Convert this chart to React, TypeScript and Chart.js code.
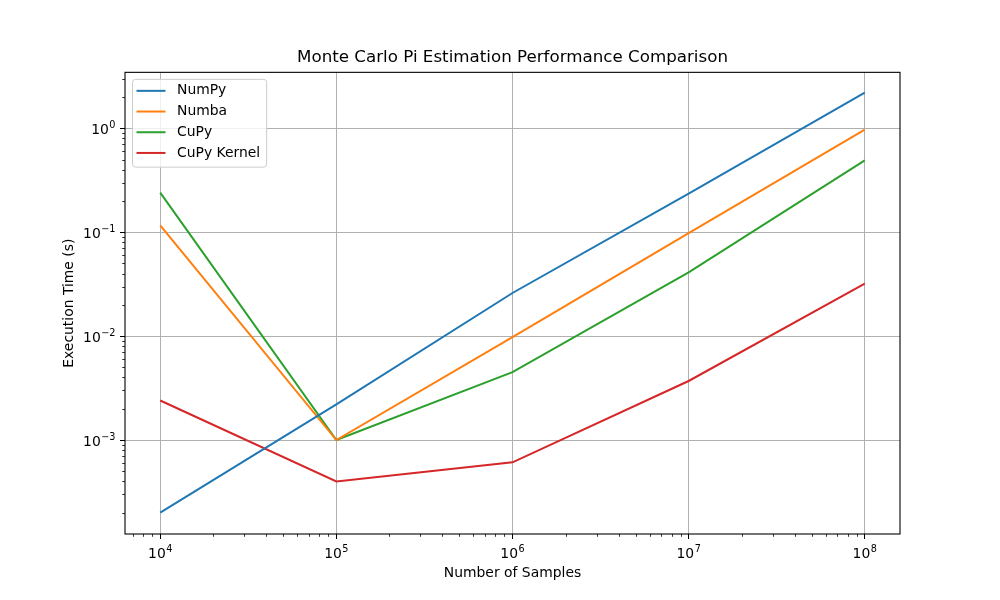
import { useEffect, useRef } from "react";
import { Chart, registerables } from "chart.js";

Chart.register(...registerables);

// Benchmark data (seconds)
const sampleCounts = [1e4, 1e5, 1e6, 1e7, 1e8];
const numpyTimes = [2.0e-4, 2.2e-3, 0.026, 0.235, 2.2];
const numbaTimes = [0.116, 1.0e-3, 0.0098, 0.098, 0.97];
const cupyTimes = [0.24, 1.0e-3, 0.0045, 0.041, 0.49];
const cupyKernelTimes = [2.4e-3, 4.0e-4, 6.1e-4, 3.7e-3, 0.032];

const seriesNames = ["NumPy", "Numba", "CuPy", "CuPy Kernel"];
const seriesColors = ["#1f77b4", "#ff7f0e", "#2ca02c", "#d62728"];

const X_MIN = Math.pow(10, 3.8);
const X_MAX = Math.pow(10, 8.2);
const Y_MIN = Math.pow(10, -3.904);
const Y_MAX = Math.pow(10, 0.538);

const FONT = "'DejaVu Sans', sans-serif";
const MAIN_PX = 13.9;
const SUP_PX = 9.7;

const isDecade = (v: number) => {
  const l = Math.log10(v);
  return Math.abs(l - Math.round(l)) < 1e-9;
};

const exponentText = (v: number) => {
  const e = Math.round(Math.log10(v));
  return (e < 0 ? "\u2212" : "") + String(Math.abs(e));
};

function logTicks(scale: any) {
  const ticks: { value: number }[] = [];
  const lo = Math.floor(Math.log10(scale.min));
  const hi = Math.ceil(Math.log10(scale.max));
  for (let d = lo; d <= hi; d++) {
    for (let m = 1; m < 10; m++) {
      const v = m * Math.pow(10, d);
      if (v >= scale.min && v <= scale.max) ticks.push({ value: v });
    }
  }
  scale.ticks = ticks;
}

// draws "10" with a raised exponent, like matplotlib's mathtext
function powerLabel(ctx: CanvasRenderingContext2D, v: number, x: number, y: number, align: "center" | "right") {
  const exp = exponentText(v);
  ctx.font = `${MAIN_PX}px ${FONT}`;
  const w1 = ctx.measureText("10").width;
  ctx.font = `${SUP_PX}px ${FONT}`;
  const w2 = ctx.measureText(exp).width;
  const total = w1 + w2 + 0.5;
  const x0 = align === "center" ? x - total / 2 : x - total;
  ctx.font = `${MAIN_PX}px ${FONT}`;
  ctx.fillText("10", x0, y);
  ctx.font = `${SUP_PX}px ${FONT}`;
  ctx.fillText(exp, x0 + w1 + 0.5, y - 6);
}

// minor tick marks, tick labels, spines and legend box drawn matplotlib-style
const decorations = {
  id: "decorations",
  afterDatasetsDraw(chart: any) {
    const { ctx, chartArea: a } = chart;
    const xs = chart.scales.x;
    const ys = chart.scales.y;
    ctx.save();
    ctx.strokeStyle = "#000";
    ctx.lineWidth = 0.8;
    xs.ticks.forEach((t: any) => {
      if (isDecade(t.value)) return;
      const px = Math.round(xs.getPixelForValue(t.value)) + 0.5;
      ctx.beginPath();
      ctx.moveTo(px, a.bottom);
      ctx.lineTo(px, a.bottom + 2.8);
      ctx.stroke();
    });
    ys.ticks.forEach((t: any) => {
      if (isDecade(t.value)) return;
      const py = Math.round(ys.getPixelForValue(t.value)) + 0.5;
      ctx.beginPath();
      ctx.moveTo(a.left, py);
      ctx.lineTo(a.left - 2.8, py);
      ctx.stroke();
    });

    // tick labels
    ctx.fillStyle = "#000";
    ctx.textBaseline = "alphabetic";
    ctx.textAlign = "left";
    xs.ticks.forEach((t: any) => {
      if (!isDecade(t.value)) return;
      powerLabel(ctx, t.value, xs.getPixelForValue(t.value), a.bottom + 24.3, "center");
    });
    ys.ticks.forEach((t: any) => {
      if (!isDecade(t.value)) return;
      powerLabel(ctx, t.value, a.left - 9.5, ys.getPixelForValue(t.value) + 6, "right");
    });

    // spines
    ctx.lineWidth = 1.1;
    ctx.strokeRect(a.left, a.top, a.right - a.left, a.bottom - a.top);

    // legend
    const bx = a.left + 7.5;
    const by = a.top + 7;
    const rowH = 20.7;
    ctx.font = `${MAIN_PX}px ${FONT}`;
    let maxW = 0;
    chart.data.datasets.forEach((ds: any) => {
      maxW = Math.max(maxW, ctx.measureText(ds.label).width);
    });
    const bw = 44 + maxW + 7;
    const bh = rowH * chart.data.datasets.length + 5;
    ctx.beginPath();
    ctx.roundRect(bx, by, bw, bh, 3);
    ctx.fillStyle = "rgba(255,255,255,0.8)";
    ctx.fill();
    ctx.strokeStyle = "#cccccc";
    ctx.lineWidth = 1;
    ctx.stroke();
    ctx.textBaseline = "middle";
    chart.data.datasets.forEach((ds: any, i: number) => {
      const cy = by + 11.5 + i * rowH;
      ctx.strokeStyle = ds.borderColor;
      ctx.lineWidth = 2;
      ctx.beginPath();
      ctx.moveTo(bx + 4, cy);
      ctx.lineTo(bx + 33, cy);
      ctx.stroke();
      ctx.fillStyle = "#000";
      ctx.fillText(ds.label, bx + 44.5, cy);
    });
    ctx.restore();
  },
};

const seriesValues = [numpyTimes, numbaTimes, cupyTimes, cupyKernelTimes];

export default function App() {
  const canvasRef = useRef<HTMLCanvasElement>(null);

  useEffect(() => {
    if (!canvasRef.current) return;

    const gridColor = (c: any) => (isDecade(c.tick?.value) ? "#b0b0b0" : "rgba(0,0,0,0)");
    const tickColor = (c: any) => (isDecade(c.tick?.value) ? "#000" : "rgba(0,0,0,0)");

    const chart = new Chart(canvasRef.current, {
      type: "line",
      data: {
        datasets: seriesValues.map((vals, i) => ({
          label: seriesNames[i],
          data: sampleCounts.map((x, j) => ({ x, y: vals[j] })),
          borderColor: seriesColors[i],
          backgroundColor: seriesColors[i],
          borderWidth: 2,
          pointRadius: 0,
          tension: 0,
          fill: false,
        })),
      },
      plugins: [decorations],
      options: {
        animation: false,
        responsive: false,
        devicePixelRatio: 1,
        layout: { padding: { top: 0, left: 55, right: 100, bottom: 10 } },
        plugins: {
          legend: { display: false },
          tooltip: { enabled: false },
          title: {
            display: true,
            fullSize: false,
            text: "Monte Carlo Pi Estimation Performance Comparison",
            color: "#000",
            font: { family: FONT, size: 16.7, weight: "normal", lineHeight: 1.2 },
            padding: { top: 48, bottom: 4.3 },
          },
        },
        scales: {
          x: {
            type: "logarithmic",
            min: X_MIN,
            max: X_MAX,
            afterBuildTicks: logTicks,
            afterFit: (s: any) => {
              s.height = 56;
            },
            grid: { color: gridColor, tickColor, lineWidth: 1, tickLength: 5, tickWidth: 1 },
            border: { display: false },
            ticks: {
              autoSkip: false,
              maxRotation: 0,
              padding: 4,
              color: "rgba(0,0,0,0)",
              font: { family: FONT, size: MAIN_PX },
              callback: () => "",
            },
            title: {
              display: true,
              text: "Number of Samples",
              color: "#000",
              font: { family: FONT, size: MAIN_PX, lineHeight: 1.2 },
              padding: { top: 0, bottom: 8 },
            },
          },
          y: {
            type: "logarithmic",
            min: Y_MIN,
            max: Y_MAX,
            afterBuildTicks: logTicks,
            afterFit: (s: any) => {
              s.width = 70;
            },
            grid: { color: gridColor, tickColor, lineWidth: 1, tickLength: 5, tickWidth: 1 },
            border: { display: false },
            ticks: {
              autoSkip: false,
              padding: 3.5,
              color: "rgba(0,0,0,0)",
              font: { family: FONT, size: MAIN_PX },
              callback: () => "",
            },
            title: {
              display: true,
              text: "Execution Time (s)",
              color: "#000",
              font: { family: FONT, size: MAIN_PX, lineHeight: 1.2 },
              padding: { top: 6, bottom: 0 },
            },
          },
        },
      },
    } as any);

    return () => {
      chart.destroy();
    };
  }, []);

  return (
    <div style={{ position: "absolute", left: 0, top: 0, width: 1000, height: 600, background: "#fff" }}>
      <canvas ref={canvasRef} width={1000} height={600} />
    </div>
  );
}
